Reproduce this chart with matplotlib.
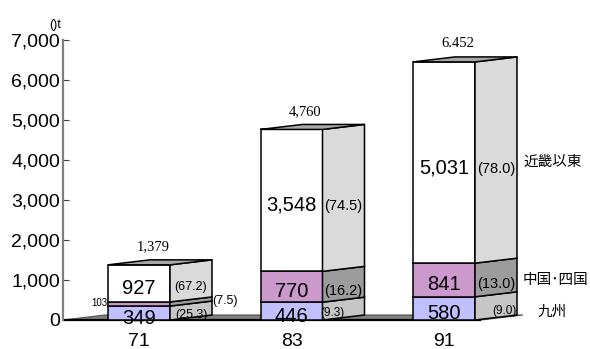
import matplotlib
matplotlib.use("Agg")
import matplotlib.pyplot as plt
from matplotlib.patches import Polygon

# freight volume by region (thousand t), stacked bottom -> top
years = ["71", "83", "91"]
kyushu = [349, 446, 580]
chugoku_shikoku = [103, 770, 841]
kinki_east = [927, 3548, 5031]
totals = ["1,379", "4,760", "6.452"]

kyushu_share = ["(25.3)", "(9.3)", "(9.0)"]
chugoku_share = ["(7.5)", "(16.2)", "(13.0)"]
kinki_share = ["(67.2)", "(74.5)", "(78.0)"]

region_names = ["九州", "中国･四国", "近畿以東"]
yticks = [0, 1000, 2000, 3000, 4000, 5000, 6000, 7000]

SANS = "Liberation Sans"
SERIF = "Liberation Serif"
CJK = ["Noto Sans CJK JP", "DejaVu Sans"]

W, H = 590, 349
fig = plt.figure(figsize=(W / 100, H / 100), dpi=100)
ax = fig.add_axes([63 / W, 0, 1 - 63 / W, 1])

# 1 category unit = 152.5 px, 1000 t = 40 px
PX = 1 / 152.5
VPX = 25.0
ax.set_xlim((63 - 139) * PX, (590 - 139) * PX)
ax.set_ylim(-29 * VPX, 320 * VPX)

bw = 62 * PX
dx = 42 * PX
dy = 5 * VPX

front_cols = ["#c0c0ff", "#cc99cc", "#ffffff"]
side_cols = ["#c6c6c6", "#9c9c9c", "#dadada"]
top_col = "#a8a8a8"
lw = 1.1

# floor slab
x_left = ax.get_xlim()[0]
x_floor_end = 2 + bw / 2 + 6 * PX
ax.add_patch(Polygon([(x_left, 0), (x_floor_end, 0), (x_floor_end + dx, dy),
                      (x_left + dx, dy)], closed=True, facecolor="#808080",
                     edgecolor="#505050", lw=0.8, zorder=1))
ax.plot([x_left, x_floor_end], [0, 0], color="black", lw=1.6, zorder=2,
        solid_capstyle="butt")

for i in range(len(years)):
    xl = i - bw / 2
    xr = i + bw / 2
    segs = [kyushu[i], chugoku_shikoku[i], kinki_east[i]]
    base = 0
    for k, v in enumerate(segs):
        y0, y1 = base, base + v
        ax.add_patch(Polygon([(xl, y0), (xr, y0), (xr, y1), (xl, y1)],
                             closed=True, facecolor=front_cols[k],
                             edgecolor="black", lw=lw, zorder=3))
        ax.add_patch(Polygon([(xr, y0), (xr + dx, y0 + dy), (xr + dx, y1 + dy),
                              (xr, y1)], closed=True, facecolor=side_cols[k],
                             edgecolor="black", lw=lw, zorder=3))
        base = y1
    top = base
    ax.add_patch(Polygon([(xl, top), (xr, top), (xr + dx, top + dy),
                          (xl + dx, top + dy)], closed=True, facecolor=top_col,
                         edgecolor="black", lw=lw, zorder=3))

    # segment values on the front face
    base = 0
    for k, v in enumerate(segs):
        if i == 0 and k == 1:
            ax.text(xl - 1 * PX, base + v / 2 + 1 * VPX, f"{v:,}", fontsize=7,
                    family=SANS, ha="right", va="center", zorder=5)
        else:
            off = 5 * VPX if v > 300 else 3 * VPX
            ax.text(i, base + v / 2 - off, f"{v:,}", fontsize=14.5,
                    family=SANS, ha="center", va="center", zorder=5)
        base += v

    # total above the bar
    ax.text(i + 14 * PX, top + 18 * VPX, totals[i], fontsize=10.5,
            family=SERIF, ha="center", va="center", zorder=5)

    # category label
    ax.text(i, -22 * VPX, years[i], fontsize=14, family=SANS,
            ha="center", va="center")

# shares on the side faces
xs = [i + bw / 2 + dx / 2 for i in range(3)]
k0, c0, e0 = kyushu[0], chugoku_shikoku[0], kinki_east[0]
ax.text(xs[0], k0 + c0 + e0 / 2 - 4 * VPX, kinki_share[0], fontsize=9,
        family=SANS, ha="center", va="center", zorder=5)
ax.text(xs[0] + 34 * PX, k0 + c0 / 2 + 3 * VPX, chugoku_share[0], fontsize=9,
        family=SANS, ha="center", va="center", zorder=5)
ax.text(xs[0], k0 / 2 - 2 * VPX, kyushu_share[0], fontsize=9,
        family=SANS, ha="center", va="center", zorder=5)
for i in (1, 2):
    k, c, e = kyushu[i], chugoku_shikoku[i], kinki_east[i]
    ax.text(xs[i], k + c + e / 2 - 6 * VPX, kinki_share[i], fontsize=10.5,
            family=SANS, ha="center", va="center", zorder=5)
    ax.text(xs[i], k + c / 2 - 4 * VPX, chugoku_share[i], fontsize=10.5,
            family=SANS, ha="center", va="center", zorder=5)
ax.text(xs[1] - 11 * PX, kyushu[1] / 2 - 2 * VPX, kyushu_share[1], fontsize=8.5,
        family=SANS, ha="center", va="center", zorder=5)
ax.text(xs[2] + 8 * PX, kyushu[2] / 2 - 3 * VPX, kyushu_share[2], fontsize=8.5,
        family=SANS, ha="center", va="center", zorder=5)

# region names on the right
x_name = (523 - 139) * PX
ax.text(x_name, (320 - 162) * VPX, region_names[2], fontsize=10.5, family=CJK,
        ha="left", va="center")
ax.text(x_name, (320 - 280) * VPX, region_names[1], fontsize=10.5, family=CJK,
        ha="left", va="center")
ax.text(x_name + 15 * PX, (320 - 312) * VPX, region_names[0], fontsize=10.5,
        family=CJK, ha="left", va="center")

# unit
ax.text(x_left - 8 * PX, (320 - 25) * VPX, "()t", fontsize=9, family=SANS,
        ha="center", va="center", clip_on=False)

# y axis
for s in ("top", "right", "bottom"):
    ax.spines[s].set_visible(False)
ax.spines["left"].set_bounds(0, 7000)
ax.spines["left"].set_color("#808080")
ax.spines["left"].set_linewidth(1.6)
ax.set_yticks(yticks)
ax.set_yticklabels([f"{v:,}" for v in yticks], fontsize=14, family=SANS)
ax.tick_params(axis="y", direction="in", length=4, color="#404040", pad=2)
ax.set_xticks([])
ax.patch.set_alpha(0)

fig.savefig("out.png", dpi=100)
